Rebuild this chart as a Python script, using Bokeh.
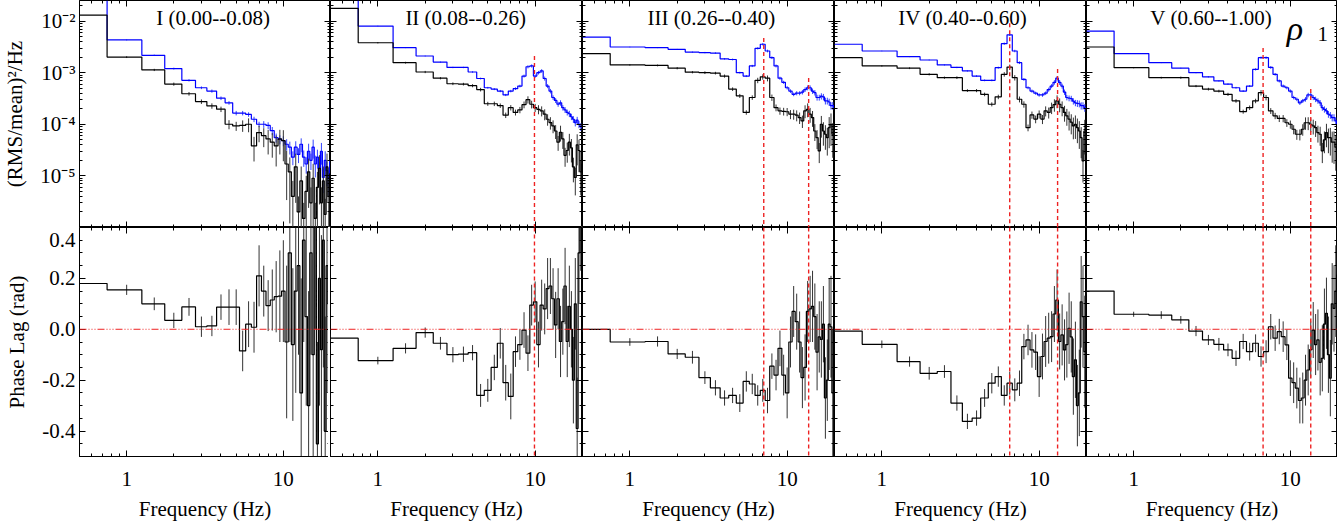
from bokeh.plotting import figure
from bokeh.models import LogAxis, LinearAxis, FixedTicker, Span, Label
from bokeh.layouts import gridplot
from bokeh.embed import file_html
from bokeh.resources import INLINE

# ---------------- data ----------------
freq = [0.5, 1.0, 1.5, 2.0, 2.5, 3.0, 3.5, 4.0, 4.5, 5.0, 5.5, 6.0, 6.5, 7.0, 7.5, 8.0, 8.5, 9.0, 9.5, 10.0,
        10.5, 11.0, 11.5, 12.0, 12.5, 13.0, 13.5, 14.0, 14.5, 15.0, 15.5, 16.0, 16.5, 17.0, 17.5, 18.0, 18.5, 19.0, 19.5, 20.0]

titles = ["I (0.00--0.08)", "II (0.08--0.26)", "III (0.26--0.40)", "IV (0.40--0.60)", "V (0.60--1.00)"]

# power spectra, black (total) and blue
pds_black_1 = [1.3e-2, 2.0e-3, 1.13e-3, 6.0e-4, 3.9e-4, 2.75e-4, 2.27e-4, 1.96e-4, 1.0e-4, 9.3e-5, 9.5e-5, 1.0e-4, 3.8e-5, 6.9e-5, 6.0e-5, 5.2e-5, 4.5e-5, 3.8e-5, 5.2e-5, 4.8e-5,
               1.7e-5, 1.2e-5, 4.0e-6, 1.5e-5, 2.0e-6, 8.0e-6, 1.5e-6, 5.0e-6, 1.2e-5, 3.0e-6, 9.0e-6, 1.5e-6, 6.0e-6, 1.4e-5, 3.0e-6, 8.0e-6, 1.8e-6, 1.5e-5, 4.0e-6, 1.1e-5]
pds_blue_1 = [3.5e-2, 4.3e-3, 2.17e-3, 1.2e-3, 7.1e-4, 5.1e-4, 4.4e-4, 3.2e-4, 2.6e-4, 1.65e-4, 1.65e-4, 1.55e-4, 1.25e-4, 1.0e-4, 1.0e-4, 9.5e-5, 7.5e-5, 5.5e-5, 5.1e-5, 4.8e-5,
              4.1e-5, 3.6e-5, 2.3e-5, 3.6e-5, 2.6e-5, 4.1e-5, 2.3e-5, 1.7e-5, 3.0e-5, 2.0e-5, 3.6e-5, 1.7e-5, 2.3e-5, 1.26e-5, 3.0e-5, 9.3e-6, 2.0e-5, 1.26e-5, 9.3e-6, 2.0e-5]
pds_black_2 = [1.76e-2, 3.8e-3, 1.56e-3, 1.03e-3, 7.8e-4, 6.1e-4, 6.0e-4, 5.6e-4, 4.7e-4, 2.5e-4, 2.5e-4, 2.3e-4, 1.5e-4, 2.1e-4, 1.7e-4, 1.9e-4, 2.4e-4, 3.0e-4, 2.44e-4, 2.1e-4,
               1.95e-4, 1.82e-4, 1.57e-4, 1.25e-4, 1.08e-4, 9.3e-5, 7.4e-5, 4.5e-5, 7.0e-5, 5.2e-5, 2.5e-5, 3.1e-5, 4.5e-5, 3.5e-5, 1.5e-5, 9.3e-6, 4.0e-5, 3.1e-5, 1.2e-5, 1.7e-5]
pds_blue_2 = [3.0e-2, 8.0e-3, 3.05e-3, 2.1e-3, 1.6e-3, 1.26e-3, 1.26e-3, 1.03e-3, 7.7e-4, 5.1e-4, 4.8e-4, 4.4e-4, 3.7e-4, 4.4e-4, 4.9e-4, 5.5e-4, 8.6e-4, 1.3e-3, 1.35e-3, 8.6e-4,
              1.0e-3, 1.08e-3, 7.7e-4, 5.5e-4, 4.4e-4, 3.3e-4, 2.9e-4, 2.45e-4, 2.6e-4, 2.1e-4, 1.9e-4, 1.7e-4, 1.6e-4, 1.4e-4, 1.25e-4, 1.07e-4, 1.2e-4, 1.0e-4, 9.0e-5, 8.7e-5]
pds_black_3 = [2.34e-3, 1.41e-3, 1.38e-3, 1.22e-3, 1.02e-3, 1.0e-3, 9.8e-4, 8.6e-4, 4.8e-4, 3.55e-4, 1.7e-4, 3.3e-4, 7.1e-4, 8.3e-4, 7.8e-4, 3.3e-4, 2.1e-4, 1.82e-4, 1.78e-4, 1.75e-4,
               1.57e-4, 1.57e-4, 1.5e-4, 1.35e-4, 1.16e-4, 1.82e-4, 1.95e-4, 1.57e-4, 1.35e-4, 7.4e-5, 5.5e-5, 3.05e-5, 1.0e-4, 7.4e-5, 6.4e-5, 5.5e-5, 8.6e-5, 1.0e-4, 6.4e-5, 7.4e-5]
pds_blue_3 = [4.9e-3, 3.14e-3, 3.05e-3, 2.83e-3, 2.5e-3, 2.45e-3, 2.4e-3, 1.85e-3, 1.8e-3, 1.0e-3, 8.6e-4, 1.35e-3, 2.96e-3, 3.55e-3, 2.63e-3, 1.95e-3, 1.35e-3, 7.8e-4, 6.5e-4, 5.1e-4,
              4.4e-4, 3.8e-4, 4.0e-4, 4.0e-4, 4.2e-4, 4.7e-4, 5.1e-4, 5.1e-4, 4.4e-4, 4.1e-4, 3.3e-4, 3.3e-4, 3.5e-4, 3.4e-4, 2.84e-4, 2.84e-4, 2.7e-4, 2.3e-4, 2.3e-4, 2.1e-4]
pds_black_4 = [1.95e-3, 1.35e-3, 1.22e-3, 9.3e-4, 8.0e-4, 8.0e-4, 4.5e-4, 4.5e-4, 3.8e-4, 2.44e-4, 3.4e-4, 9.3e-4, 1.28e-3, 8.0e-4, 3.05e-4, 2.44e-4, 8.6e-5, 1.52e-4, 1.26e-4, 1.57e-4,
               1.26e-4, 1.82e-4, 1.7e-4, 2.1e-4, 2.4e-4, 2.84e-4, 2.44e-4, 2.1e-4, 1.7e-4, 1.46e-4, 1.26e-4, 1.1e-4, 9.3e-5, 1.0e-4, 8.6e-5, 7.4e-5, 5.5e-5, 1.95e-5, 7.4e-5, 1.0e-4]
pds_blue_4 = [3.55e-3, 2.63e-3, 2.04e-3, 1.76e-3, 1.41e-3, 1.26e-3, 1.08e-3, 8.6e-4, 7.1e-4, 7.1e-4, 1.25e-3, 3.65e-3, 5.4e-3, 2.63e-3, 1.56e-3, 7.4e-4, 5.1e-4, 4.4e-4, 4.0e-4, 3.7e-4,
              3.7e-4, 4.0e-4, 4.7e-4, 5.5e-4, 6.5e-4, 7.8e-4, 6.5e-4, 5.5e-4, 4.2e-4, 3.3e-4, 3.2e-4, 3.15e-4, 2.8e-4, 2.6e-4, 2.55e-4, 2.5e-4, 2.3e-4, 2.3e-4, 2.1e-4, 2.05e-4]
pds_black_5 = [3.14e-3, 1.25e-3, 8.0e-4, 8.0e-4, 5.5e-4, 4.8e-4, 4.4e-4, 3.8e-4, 2.84e-4, 1.76e-4, 2.1e-4, 2.84e-4, 4.1e-4, 3.3e-4, 1.82e-4, 1.46e-4, 1.3e-4, 1.3e-4, 1.07e-4, 1.0e-4,
               8.0e-5, 6.4e-5, 6.4e-5, 8.0e-5, 1.07e-4, 1.07e-4, 1.0e-4, 9.3e-5, 8.6e-5, 6.9e-5, 6.4e-5, 3.05e-5, 5.0e-5, 6.9e-5, 5.5e-5, 5.5e-5, 4.5e-5, 4.5e-5, 3.6e-5, 5.1e-6]
pds_blue_5 = [6.4e-3, 2.34e-3, 1.56e-3, 1.22e-3, 1.0e-3, 8.3e-4, 6.9e-4, 6.0e-4, 5.1e-4, 4.4e-4, 5.5e-4, 1.16e-3, 1.95e-3, 1.95e-3, 1.26e-3, 9.3e-4, 6.9e-4, 5.5e-4, 5.1e-4, 4.4e-4,
              3.3e-4, 3.05e-4, 2.6e-4, 2.84e-4, 3.05e-4, 3.7e-4, 3.7e-4, 3.3e-4, 3.05e-4, 2.84e-4, 2.6e-4, 2.1e-4, 1.95e-4, 1.82e-4, 1.57e-4, 1.5e-4, 1.35e-4, 1.35e-4, 1.16e-4, 1.0e-4]

# fractional power errors
pds_black_err_1 = [0.03, 0.04, 0.05, 0.07, 0.08, 0.1, 0.12, 0.12, 0.2, 0.2, 0.25, 0.3, 0.5, 0.35, 0.4, 0.5, 0.5, 0.6, 0.5, 0.6,
                   0.8, 0.9, 1.0, 0.8, 1.0, 0.9, 1.0, 1.0, 0.8, 1.0, 0.9, 1.0, 1.0, 0.8, 1.0, 0.9, 1.0, 0.8, 1.0, 0.9]
pds_blue_err_1 = [0.02, 0.02, 0.03, 0.04, 0.05, 0.06, 0.07, 0.08, 0.08, 0.1, 0.1, 0.1, 0.12, 0.12, 0.15, 0.15, 0.18, 0.2, 0.2, 0.22,
                  0.25, 0.28, 0.3, 0.3, 0.32, 0.3, 0.35, 0.35, 0.4, 0.35, 0.4, 0.45, 0.4, 0.5, 0.45, 0.5, 0.5, 0.5, 0.55, 0.5]
pds_black_err = [0.02, 0.03, 0.04, 0.05, 0.05, 0.06, 0.06, 0.07, 0.08, 0.09, 0.1, 0.1, 0.12, 0.12, 0.13, 0.14, 0.15, 0.16, 0.17, 0.18,
                 0.2, 0.22, 0.24, 0.25, 0.27, 0.28, 0.3, 0.32, 0.34, 0.36, 0.4, 0.42, 0.45, 0.48, 0.5, 0.55, 0.6, 0.62, 0.65, 0.7]
pds_blue_err = [0.01, 0.015, 0.02, 0.02, 0.025, 0.03, 0.03, 0.035, 0.04, 0.04, 0.045, 0.05, 0.05, 0.055, 0.06, 0.06, 0.065, 0.07, 0.07, 0.075,
                0.08, 0.08, 0.09, 0.09, 0.1, 0.1, 0.11, 0.11, 0.12, 0.12, 0.13, 0.13, 0.14, 0.14, 0.15, 0.15, 0.16, 0.16, 0.17, 0.18]

# phase lags (rad) and errors
lag_1 = [0.18, 0.155, 0.10, 0.035, 0.088, 0.01, 0.013, 0.087, 0.087, 0.087, -0.085, 0.02, 0.008, 0.21, 0.15, 0.093, 0.115, 0.128, 0.13, 0.15,
         -0.05, 0.30, -0.06, 0.15, 0.25, -0.25, 0.35, 0.05, -0.30, 0.30, -0.10, 0.45, -0.45, 0.20, -0.08, 0.35, -0.40, 0.25, 0.10, -0.03]
lag_2 = [-0.035, -0.123, -0.075, -0.013, -0.055, -0.10, -0.098, -0.092, -0.26, -0.24, -0.15, -0.055, -0.21, -0.264, -0.088, -0.06, -0.003, -0.094, 0.095, 0.108,
         -0.06, 0.095, 0.08, 0.16, 0.17, 0.12, 0.017, 0.12, -0.048, 0.03, 0.17, -0.048, 0.09, 0.0, -0.2, 0.1, -0.39, 0.3, 0.45, 0.0]
lag_3 = [0.0, -0.05, -0.048, -0.097, -0.11, -0.19, -0.23, -0.27, -0.26, -0.29, -0.205, -0.215, -0.26, -0.24, -0.28, -0.145, -0.18, -0.075, -0.18, -0.25,
         -0.05, 0.07, 0.03, -0.05, -0.19, -0.15, 0.07, 0.08, 0.09, 0.05, -0.09, -0.03, -0.04, 0.02, -0.27, -0.2, 0.02, 0.01, -0.25, 0.0]
lag_4 = [-0.007, -0.059, -0.127, -0.173, -0.166, -0.29, -0.362, -0.349, -0.27, -0.212, -0.186, -0.26, -0.212, -0.238, -0.212, -0.068, -0.042, -0.081, -0.09, -0.186,
         -0.107, -0.048, -0.035, -0.029, 0.06, 0.115, -0.048, -0.022, -0.081, -0.06, 0.004, -0.03, -0.186, -0.12, -0.30, -0.25, 0.108, 0.05, -0.088, -0.05]
lag_5 = [0.15, 0.059, 0.056, 0.037, -0.007, -0.042, -0.059, -0.081, -0.114, -0.048, -0.088, -0.055, -0.107, -0.088, 0.01, -0.035, -0.009, -0.029, -0.061, -0.192,
         -0.21, -0.231, -0.28, -0.27, -0.2, -0.16, -0.08, -0.003, -0.06, -0.042, -0.13, -0.114, 0.02, 0.063, -0.1, -0.192, 0.1, 0.082, 0.15, 0.213]
lag_err_1 = [0.02, 0.02, 0.025, 0.03, 0.035, 0.04, 0.04, 0.05, 0.07, 0.07, 0.08, 0.09, 0.1, 0.12, 0.1, 0.1, 0.12, 0.14, 0.18, 0.2,
             0.3, 0.35, 0.3, 0.4, 0.35, 0.45, 0.4, 0.35, 0.45, 0.4, 0.5, 0.45, 0.4, 0.5, 0.45, 0.5, 0.45, 0.5, 0.5, 0.5]
lag_err_2 = [0.015, 0.015, 0.02, 0.02, 0.025, 0.03, 0.03, 0.03, 0.045, 0.045, 0.05, 0.06, 0.07, 0.09, 0.06, 0.06, 0.07, 0.07, 0.08, 0.08,
             0.09, 0.1, 0.1, 0.12, 0.11, 0.12, 0.13, 0.12, 0.14, 0.13, 0.15, 0.14, 0.16, 0.15, 0.17, 0.18, 0.2, 0.2, 0.22, 0.25]
lag_err_3 = [0.01, 0.015, 0.02, 0.02, 0.025, 0.025, 0.03, 0.03, 0.03, 0.035, 0.04, 0.04, 0.04, 0.045, 0.05, 0.05, 0.06, 0.07, 0.08, 0.1,
             0.1, 0.1, 0.11, 0.12, 0.12, 0.13, 0.12, 0.13, 0.14, 0.13, 0.15, 0.14, 0.15, 0.15, 0.16, 0.16, 0.18, 0.2, 0.25, 0.22]
lag_err_4 = [0.01, 0.015, 0.02, 0.025, 0.025, 0.03, 0.03, 0.03, 0.035, 0.04, 0.04, 0.04, 0.045, 0.045, 0.05, 0.05, 0.06, 0.07, 0.07, 0.08,
             0.09, 0.1, 0.1, 0.1, 0.11, 0.12, 0.11, 0.12, 0.12, 0.13, 0.14, 0.14, 0.15, 0.15, 0.16, 0.17, 0.18, 0.2, 0.22, 0.25]
lag_err_5 = [0.01, 0.01, 0.015, 0.015, 0.02, 0.02, 0.025, 0.025, 0.03, 0.03, 0.035, 0.035, 0.04, 0.045, 0.05, 0.05, 0.05, 0.06, 0.06, 0.07,
             0.08, 0.08, 0.09, 0.1, 0.1, 0.1, 0.11, 0.11, 0.12, 0.12, 0.13, 0.13, 0.14, 0.14, 0.15, 0.15, 0.16, 0.17, 0.18, 0.2]

# QPO marker frequencies (Hz) and the power level where the marker starts
qpo_freq = [[], [9.9], [7.1, 13.7], [6.5, 13.1], [6.7, 13.5]]
qpo_top = [[], [2.1e-3], [4.7e-3, 7.9e-4], [9.1e-3, 1.18e-3], [3.0e-3, 4.8e-4]]

pds_black = [pds_black_1, pds_black_2, pds_black_3, pds_black_4, pds_black_5]
pds_blue = [pds_blue_1, pds_blue_2, pds_blue_3, pds_blue_4, pds_blue_5]
black_errs = [pds_black_err_1, pds_black_err, pds_black_err, pds_black_err, pds_black_err]
blue_errs = [pds_blue_err_1, pds_blue_err, pds_blue_err, pds_blue_err, pds_blue_err]
lags = [lag_1, lag_2, lag_3, lag_4, lag_5]
lag_errs = [lag_err_1, lag_err_2, lag_err_3, lag_err_4, lag_err_5]

# ---------------- style ----------------
FONT = "Liberation Serif"
FS = "21px"
XR = (0.5, 20.0)
PR = (1e-6, 0.025)
LR = (-0.5, 0.4)
FW = [251, 252, 252, 252, 251]
LEFT = 70
TOPH = 227
BOTH = 229
BOTB = 57
TITLE_X = [3.56, 3.62, 3.3, 3.27, 3.13]
TOP_LABEL_POS = 0.352   # where the top "0.4" text of the lag axis is drawn (kept inside the canvas)

x_ticks, x_minor = [1, 10], [0.5, 0.6, 0.7, 0.8, 0.9, 2, 3, 4, 5, 6, 7, 8, 9, 20]
p_ticks = [1e-5, 1e-4, 1e-3, 1e-2]
p_minor = [1e-6] + [m * 10.0 ** e for e in range(-6, -1) for m in range(2, 10)]
l_ticks = [-0.4, -0.2, 0.0, 0.2, 0.4]
l_minor = [round(-0.5 + 0.05 * i, 2) for i in range(19)]

x_over = {1: "1", 10: "10"}
p_over = {1e-5: "10\u207b\u2075", 1e-4: "10\u207b\u2074", 1e-3: "10\u207b\u00b3", 1e-2: "10\u207b\u00b2"}
l_label_ticks = [-0.4, -0.2, 0.0, 0.2, TOP_LABEL_POS]
l_label_over = {-0.4: "-0.4", -0.2: "-0.2", 0.0: "0.0", 0.2: "0.2", TOP_LABEL_POS: "0.4"}


def style_axis(ax, ticks, minor, overrides, labels):
    ax.ticker = FixedTicker(ticks=ticks, minor_ticks=minor)
    if labels:
        ax.major_label_overrides = overrides
    else:
        ax.major_label_overrides = {t: "" for t in ticks}
        ax.major_label_text_alpha = 0
        ax.major_label_text_font_size = "1px"
    ax.major_tick_in = 6
    ax.major_tick_out = 0
    ax.minor_tick_in = 3
    ax.minor_tick_out = 0
    ax.axis_line_color = "black"
    ax.major_tick_line_color = "black"
    ax.minor_tick_line_color = "black"
    ax.major_label_text_font = FONT
    if labels:
        ax.major_label_text_font_size = FS
    ax.major_label_text_color = "black"
    ax.axis_label_text_font = FONT
    ax.axis_label_text_font_size = FS
    ax.axis_label_text_font_style = "normal"
    ax.axis_label_text_color = "black"


def edges(f):
    e = [f[0] - (f[1] - f[0]) / 2]
    e += [(a + b) / 2 for a, b in zip(f[:-1], f[1:])]
    e.append(f[-1] + (f[-1] - f[-2]) / 2)
    return e


E = edges(freq)

rows = [[], []]
for col in range(5):
    for row in range(2):
        top = row == 0
        p = figure(x_axis_type="log", y_axis_type="log" if top else "linear",
                   x_range=XR, y_range=PR if top else LR,
                   frame_width=FW[col], frame_height=TOPH if top else BOTH,
                   output_backend="svg", toolbar_location=None,
                   min_border_left=LEFT if col == 0 else 0, min_border_right=0,
                   min_border_top=0, min_border_bottom=0 if top else BOTB)
        p.outline_line_color = "black"
        p.xgrid.visible = False
        p.ygrid.visible = False
        yt, ym, yo = (p_ticks, p_minor, p_over) if top else (l_ticks, l_minor, {})

        # bottom x axis
        xa = p.xaxis[0]
        style_axis(xa, x_ticks, x_minor, x_over, not top)
        if top:
            xa.fixed_location = PR[0]
        else:
            xa.axis_label = "Frequency (Hz)"
            xa.major_label_standoff = 15
            xa.axis_label_standoff = 8
        # left y axis
        ya = p.yaxis[0]
        if col == 0 and not top:
            # labels only (top label nudged inside the canvas); tick marks come from a fixed axis
            style_axis(ya, l_label_ticks, [], l_label_over, True)
            ya.major_tick_in = 0
            ya.minor_tick_in = 0
            tk = LinearAxis(fixed_location=XR[0])
            style_axis(tk, l_ticks, l_minor, {}, False)
            tk.axis_line_color = None
            p.add_layout(tk, "left")
        else:
            style_axis(ya, yt, ym, yo, col == 0)
        if col == 0:
            ya.major_label_standoff = 4
            ya.axis_label_standoff = 10
            ya.axis_label = "(RMS/mean)\u00b2/Hz" if top else "Phase Lag (rad)"
        else:
            ya.fixed_location = XR[0]
        # mirrored axes
        ta = LogAxis(fixed_location=PR[1] if top else LR[1])
        style_axis(ta, x_ticks, x_minor, {}, False)
        p.add_layout(ta, "above")
        ra = LogAxis(fixed_location=XR[1]) if top else LinearAxis(fixed_location=XR[1])
        style_axis(ra, yt, ym, {}, False)
        p.add_layout(ra, "right")

        if top:
            for vals, errs, color, ecol in ((pds_blue[col], blue_errs[col], "#0000ff", "#3344ff"),
                                            (pds_black[col], black_errs[col], "black", "#333333")):
                lo = [max(v * (1 - e), 1e-8) for v, e in zip(vals, errs)]
                hi = [v * (1 + e) for v, e in zip(vals, errs)]
                p.segment(x0=freq, y0=lo, x1=freq, y1=hi, line_color=ecol, line_width=1)
                p.step(E, vals + [vals[-1]], mode="after", line_color=color, line_width=1.2)
            if qpo_freq[col]:
                p.segment(x0=qpo_freq[col], y0=qpo_top[col], x1=qpo_freq[col], y1=[PR[0]] * len(qpo_freq[col]),
                          line_color="#ee2222", line_width=1.4, line_dash="4 3")
            p.add_layout(Label(x=TITLE_X[col], y=0.0117, text=titles[col], text_align="center",
                               text_baseline="middle", text_font=FONT, text_font_size=FS, text_color="black"))
            if col == 4:
                p.add_layout(Label(x=9.5, y=7.2e-3, text="\u03c1", text_align="left", text_baseline="alphabetic",
                                   text_font=FONT, text_font_size="34px", text_font_style="italic",
                                   text_color="black"))
                p.add_layout(Label(x=14.9, y=5.5e-3, text="1", text_align="left", text_baseline="alphabetic",
                                   text_font=FONT, text_font_size="21px", text_color="black"))
        else:
            vals, errs = lags[col], lag_errs[col]
            lo = [v - e for v, e in zip(vals, errs)]
            hi = [v + e for v, e in zip(vals, errs)]
            p.add_layout(Span(location=0.0, dimension="width", line_color="#ee2222", line_width=1,
                              line_dash="7 2 1 2 1 2 1 2"))
            for q in qpo_freq[col]:
                p.add_layout(Span(location=q, dimension="height", line_color="#ee2222", line_width=1.4,
                                  line_dash="4 3"))
            p.segment(x0=freq, y0=lo, x1=freq, y1=hi, line_color="#333333", line_width=1)
            p.step(E, vals + [vals[-1]], mode="after", line_color="black", line_width=1.2)
        rows[row].append(p)

grid = gridplot(rows, toolbar_location=None)
open("out.html", "w").write(file_html(grid, INLINE))
